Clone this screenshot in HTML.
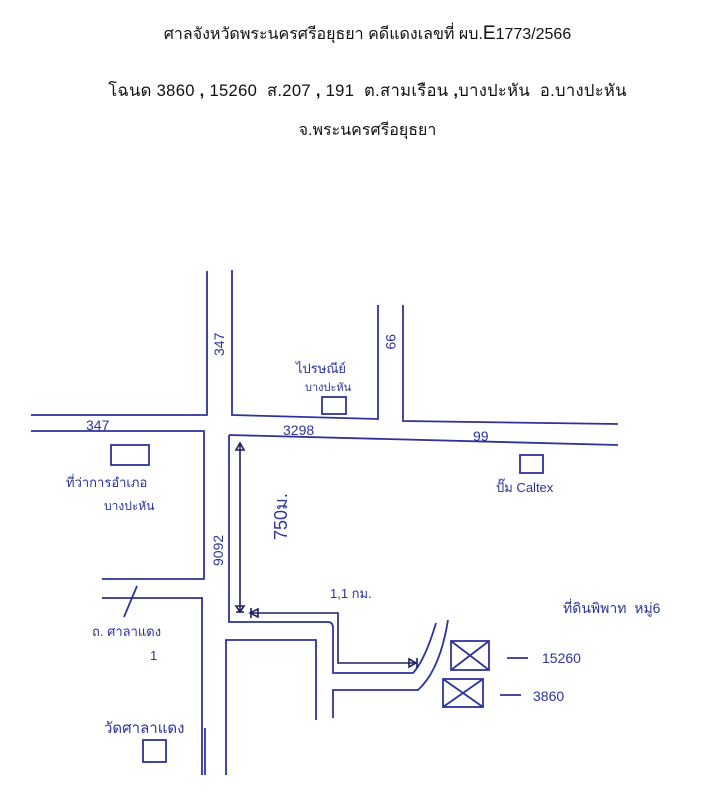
<!DOCTYPE html>
<html><head><meta charset="utf-8"><style>
html,body{margin:0;padding:0;background:#fff;}
.h{position:absolute;left:0;width:725px;text-align:center;font-family:"Liberation Sans","Noto Sans CJK SC",sans-serif;color:#111;font-size:16px;}
</style></head><body>
<div style="position:relative;width:725px;height:800px;overflow:hidden;">
<div class="h" style="top:22px;left:5px;">ศาลจังหวัดพระนครศรีอยุธยา คดีแดงเลขที่ ผบ.<span style="font-size:19px">E</span>1773/2566</div>
<div class="h" style="top:78px;left:5px;font-size:16.6px;letter-spacing:0.3px;">โฉนด 3860 <b>,</b> 15260 &nbsp;ส.207 <b>,</b> 191 &nbsp;ต.สามเรือน <b>,</b>บางปะหัน &nbsp;อ.บางปะหัน</div>
<div class="h" style="top:118px;left:5px;">จ.พระนครศรีอยุธยา</div>
<svg width="725" height="800" style="position:absolute;left:0;top:0" font-family="Liberation Sans, Noto Sans CJK SC, sans-serif">
<g stroke="#2d3399" stroke-width="1.8" fill="none">
<path d="M207 271 V415 H31"/>
<path d="M232 270 V415 L378 419 V305"/>
<path d="M403 305 V421 L618 424"/>
<path d="M31 431 H204 V579 H102"/>
<path d="M229 435 L618 445"/>
<path d="M102 598 H202 V775"/>
<path d="M229 435 V622 H328 Q333 622 333 628 V673 H413 Q425 660 436 623"/>
<path d="M226 775 V640 H316 V720"/>
<path d="M333 718 V690 H418 Q440 670 448 620"/>
<path d="M205 728 V775"/>
<path d="M137 586 L124 617"/>
<rect x="322" y="397" width="24" height="17"/>
<rect x="111" y="445" width="38" height="20"/>
<rect x="520" y="455" width="23" height="18"/>
<rect x="143" y="740" width="23" height="22"/>
<rect x="451" y="641" width="38" height="29"/><path d="M451 641 L489 670 M489 641 L451 670"/>
<rect x="443" y="679" width="40" height="28"/><path d="M443 679 L483 707 M483 679 L443 707"/>
<path d="M507 658 H528 M500 695 H521"/>
</g>
<g stroke="#1e2060" stroke-width="1.6" fill="none">
<path d="M240 444 V612"/>
<path d="M236 450 L240 443 L244 450 Z M236 606 L244 606 L240 612 Z M236 612 H244"/>
<path d="M250 613 H338 V663 H415"/>
<path d="M258 609 L250 613 L258 617 Z M251 608 V618 M409 659 L416 663 L409 667 Z M417 658 V668"/>
</g>
<g fill="#2d3399" font-size="14">
<text x="86" y="430">347</text>
<text x="283" y="435">3298</text>
<text x="473" y="441">99</text>
<text transform="translate(224,356) rotate(-90)">347</text>
<text transform="translate(386,334) rotate(90)">99</text>
<text transform="translate(223,566) rotate(-90)">9092</text>
<text transform="translate(287,540) rotate(-90)" font-size="18">750ม.</text>
<text x="296" y="373" font-size="13">ไปรษณีย์</text>
<text x="305" y="391" font-size="11">บางปะหัน</text>
<text x="66" y="487" font-size="13">ที่ว่าการอำเภอ</text>
<text x="104" y="510" font-size="12">บางปะหัน</text>
<text x="496" y="492" font-size="13">ปั๊ม Caltex</text>
<text x="330" y="598" font-size="13">1,1 กม.</text>
<text x="92" y="636" font-size="13">ถ. ศาลาแดง</text>
<text x="150" y="660" font-size="13">1</text>
<text x="104" y="733" font-size="15">วัดศาลาแดง</text>
<text x="563" y="613" font-size="14">ที่ดินพิพาท &nbsp;หมู่6</text>
<text x="542" y="663" font-size="14">15260</text>
<text x="533" y="701" font-size="14">3860</text>
</g>
</svg>
</div>
</body></html>
